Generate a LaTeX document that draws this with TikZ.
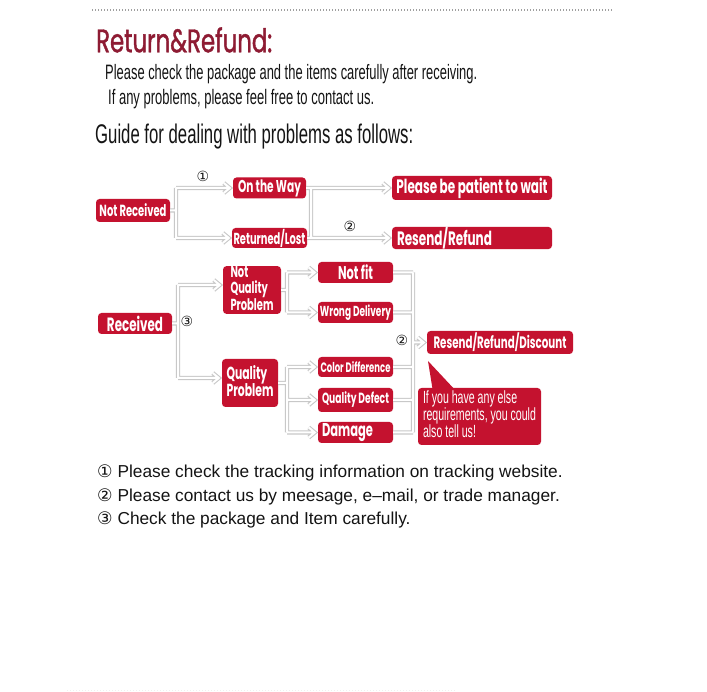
\documentclass[tikz,border=0pt]{standalone}
\usepackage{fontspec}
\usepackage{graphicx}
\setmainfont{Liberation Sans}
\newfontfamily\boxfont[FakeStretch=0.62]{Poppins}
\newfontfamily\titlefont[FakeStretch=0.7,FakeBold=1.2]{Poppins}
\newfontfamily\condfont[FakeStretch=0.62]{Liberation Sans}
\newfontfamily\callfont[FakeStretch=0.6]{Liberation Sans}
\newfontfamily\circfont{DejaVu Sans}
\newcommand\fitw[2]{\resizebox{#1pt}{!}{#2}}
\newcommand\stk[1]{\fontsize{10}{8.0}\selectfont\begin{tabular}{@{}l@{}}#1\end{tabular}}
\definecolor{boxred}{RGB}{196,18,47}
\definecolor{titlered}{RGB}{142,27,51}
\definecolor{pipegray}{RGB}{200,200,200}
\definecolor{txt}{RGB}{20,20,20}
\tikzset{
  box/.style={fill=boxred, rounded corners=3.5pt, text=white, inner sep=0pt, font=\boxfont\bfseries},
  pipe/.style={draw=pipegray, line width=4.2pt, line join=miter, postaction={draw=white, line width=2pt}},
  circ/.style={font=\circfont\fontsize{14}{14}\selectfont, text=txt, inner sep=0pt},
  plain/.style={text=txt, inner sep=0pt, anchor=west},
  foot/.style={plain, font=\fontsize{17.3}{19}\selectfont}
}
\begin{document}
\begin{tikzpicture}[x=1pt,y=-1pt]
\useasboundingbox[fill=white] (0,0) rectangle (707,692);
% top dotted rule
\draw[gray!75, line width=1.1pt, dash pattern=on 1.1pt off 1.9pt] (92,10) -- (613,10);
\draw[gray!12, line width=1pt, dash pattern=on 1pt off 2pt] (67,690) -- (455,690);
% header texts
\node[plain, text=titlered] (title) at (96,40) {\fitw{176}{\titlefont Return\&Refund:}};
\node[plain] (l1) at (105,74) {\fitw{372}{\condfont Please check the package and the items carefully after receiving.}};
\node[plain] (l2) at (108,99) {\fitw{266}{\condfont If any problems, please feel free to contact us.}};
\node[plain] (guide) at (95,137) {\fitw{318}{\condfont Guide for dealing with problems as follows:}};
% boxes, not received part
\node[box, minimum width=74pt, minimum height=23pt] (nr) at (133,210.5) {\fitw{67}{Not Received}};
\node[box, minimum width=73pt, minimum height=21pt] (otw) at (269.5,188) {\fitw{63}{On the Way}};
\node[box, minimum width=75pt, minimum height=20pt] (rl) at (269.5,238) {\fitw{72}{Returned/Lost}};
\node[box, minimum width=160pt, minimum height=24pt] (pw) at (472,188) {\fitw{151}{Please be patient to wait}};
\node[box, minimum width=160pt, minimum height=21pt, text width=150pt, align=left] (rr) at (472,238) {\fitw{95}{Resend/Refund}};
% received part
\node[box, minimum width=74pt, minimum height=21pt] (rec) at (135,323.5) {\fitw{56}{Received}};
\node[box, minimum width=58pt, minimum height=47pt] (nqp) at (252,290) {\fitw{43}{\stk{Not\\Quality\\Problem}}};
\node[box, minimum width=56pt, minimum height=48pt] (qp) at (250,383) {\fitw{47}{\stk{Quality\\Problem}}};
\node[box, minimum width=75pt, minimum height=21pt] (nf) at (355.5,272.5) {\fitw{35}{Not fit}};
\node[box, minimum width=75pt, minimum height=21pt] (wd) at (355.5,312.5) {\fitw{71}{Wrong Delivery}};
\node[box, minimum width=75pt, minimum height=20pt] (cd) at (355.5,367) {\fitw{70}{Color Difference}};
\node[box, minimum width=75pt, minimum height=24pt] (qd) at (355.5,400) {\fitw{67}{Quality Defect}};
\node[box, minimum width=75pt, minimum height=21pt, text width=67pt, align=left] (dm) at (355.5,432.5) {\fitw{51}{Damage}};
\node[box, minimum width=146pt, minimum height=23pt] (rrd) at (500,342.5) {\fitw{133}{Resend/Refund/Discount}};
% callout
\fill[boxred] (428,361) -- (433,392) -- (457,392) -- cycle;
\node[box, minimum width=123pt, minimum height=57pt] (co) at (479.5,416.5) {\fitw{113}{\callfont\mdseries\fontsize{10}{8.4}\selectfont\begin{tabular}{@{}l@{}}If you have any else\\requirements, you could\\also tell us!\end{tabular}}};
% trunk coordinates
\coordinate (tA) at (176,0);
\coordinate (tB) at (311,0);
\coordinate (tC) at (178,0);
\coordinate (tD) at (287,0);
\coordinate (tE) at (413,0);
\coordinate (nqpin) at ([yshift=5pt]nqp.west);
\coordinate (qpin) at ([yshift=5pt]qp.west);
% connectors
\draw[pipe]
  (nr.east) -- (nr.east -| tA)
  (tA |- otw) -- (tA |- rl)
  (tA |- otw) -- ([xshift=-3pt]otw.west)
  (tA |- rl) -- ([xshift=-3pt]rl.west)
  ([xshift=-9pt,yshift=5pt]otw.west) -- ([xshift=-3pt]otw.west) -- ([xshift=-9pt,yshift=-5pt]otw.west)
  ([xshift=-9pt,yshift=5pt]rl.west) -- ([xshift=-3pt]rl.west) -- ([xshift=-9pt,yshift=-5pt]rl.west)
  (otw.east) -- ([xshift=-3pt]pw.west)
  (rl.east) -- ([xshift=-3pt]rr.west)
  (tB |- otw) -- (tB |- rl)
  ([xshift=-9pt,yshift=5pt]pw.west) -- ([xshift=-3pt]pw.west) -- ([xshift=-9pt,yshift=-5pt]pw.west)
  ([xshift=-9pt,yshift=5pt]rr.west) -- ([xshift=-3pt]rr.west) -- ([xshift=-9pt,yshift=-5pt]rr.west)
  (rec.east) -- (rec.east -| tC)
  (tC |- nqpin) -- (tC |- qpin)
  (tC |- nqpin) -- ([xshift=-3pt]nqpin)
  (tC |- qpin) -- ([xshift=-3pt]qpin)
  ([xshift=-9pt,yshift=5pt]nqpin) -- ([xshift=-3pt]nqpin) -- ([xshift=-9pt,yshift=-5pt]nqpin)
  ([xshift=-9pt,yshift=5pt]qpin) -- ([xshift=-3pt]qpin) -- ([xshift=-9pt,yshift=-5pt]qpin)
  (nqp.east) -- (nqp.east -| tD)
  (tD |- nf) -- (tD |- wd)
  (tD |- nf) -- ([xshift=-3pt]nf.west)
  (tD |- wd) -- ([xshift=-3pt]wd.west)
  (qp.east) -- (qp.east -| tD)
  (tD |- cd) -- (tD |- dm)
  (tD |- cd) -- ([xshift=-3pt]cd.west)
  (tD |- qd) -- ([xshift=-3pt]qd.west)
  (tD |- dm) -- ([xshift=-3pt]dm.west)
  ([xshift=-9pt,yshift=5pt]nf.west) -- ([xshift=-3pt]nf.west) -- ([xshift=-9pt,yshift=-5pt]nf.west)
  ([xshift=-9pt,yshift=5pt]wd.west) -- ([xshift=-3pt]wd.west) -- ([xshift=-9pt,yshift=-5pt]wd.west)
  ([xshift=-9pt,yshift=5pt]cd.west) -- ([xshift=-3pt]cd.west) -- ([xshift=-9pt,yshift=-5pt]cd.west)
  ([xshift=-9pt,yshift=5pt]qd.west) -- ([xshift=-3pt]qd.west) -- ([xshift=-9pt,yshift=-5pt]qd.west)
  ([xshift=-9pt,yshift=5pt]dm.west) -- ([xshift=-3pt]dm.west) -- ([xshift=-9pt,yshift=-5pt]dm.west)
  (nf.east) -- (nf.east -| tE)
  (wd.east) -- (wd.east -| tE)
  (cd.east) -- (cd.east -| tE)
  (qd.east) -- (qd.east -| tE)
  (dm.east) -- (dm.east -| tE)
  (tE |- nf) -- (tE |- dm)
  (tE |- rrd) -- ([xshift=-3pt]rrd.west)
  ([xshift=-9pt,yshift=5pt]rrd.west) -- ([xshift=-3pt]rrd.west) -- ([xshift=-9pt,yshift=-5pt]rrd.west);
% circled labels
\node[circ] (c1) at (203,176) {①};
\node[circ] (c2) at (350,226) {②};
\node[circ] (c3) at (187,321) {③};
\node[circ] (c4) at (402,340) {②};
% footnotes
\node[foot] (f1) at (97,473) {{\circfont ①} Please check the tracking information on tracking website.};
\node[foot] (f2) at (97,497) {{\circfont ②} Please contact us by meesage, e–mail, or trade manager.};
\node[foot] (f3) at (97,520) {{\circfont ③} Check the package and Item carefully.};
\end{tikzpicture}
\end{document}
